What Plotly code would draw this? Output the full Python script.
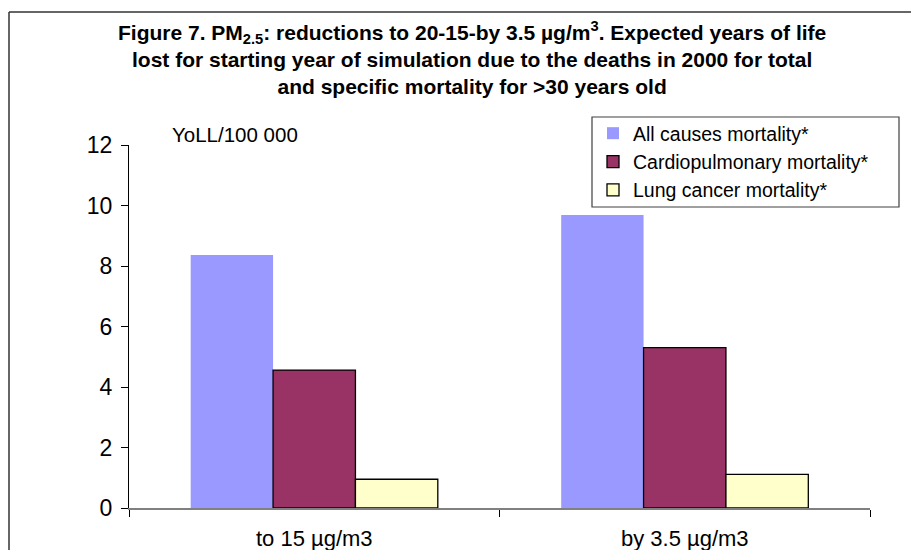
import plotly.graph_objects as go

categories = ["to 15 µg/m3", "by 3.5 µg/m3"]
all_causes = [8.36, 9.69]
cardiopulmonary = [4.56, 5.30]
lung_cancer = [0.95, 1.11]
series_names = ["All causes mortality*", "Cardiopulmonary mortality*", "Lung cancer mortality*"]
y_ticks = [0, 2, 4, 6, 8, 10, 12]

FONT = "Arial, Liberation Sans, sans-serif"

# plot area in pixels
L, R, T, B = 129, 870, 145, 508
W, H = 911, 550
def px(x):
    return (x - L) / (R - L)
def py(y):
    return (B - y) / (B - T)

fig = go.Figure()
fig.add_trace(go.Bar(x=categories, y=all_causes, name=series_names[0],
                     marker=dict(color="#9999FF", line=dict(width=0))))
fig.add_trace(go.Bar(x=categories, y=cardiopulmonary, name=series_names[1],
                     marker=dict(color="#993366", line=dict(color="black", width=1.3))))
fig.add_trace(go.Bar(x=categories, y=lung_cancer, name=series_names[2],
                     marker=dict(color="#FFFFCC", line=dict(color="black", width=1.3))))

fig.update_layout(
    width=W, height=H,
    margin=dict(l=L, r=W - R, t=T, b=H - B, pad=0),
    paper_bgcolor="white", plot_bgcolor="white",
    font=dict(family=FONT, size=20, color="black"),
    barmode="group", bargap=0.333, bargroupgap=0,
    showlegend=True,
    legend=dict(x=px(593), y=py(114), xanchor="left", yanchor="top",
                borderwidth=0, bgcolor="rgba(0,0,0,0)",
                font=dict(family=FONT, size=19.5, color="black"),
                traceorder="normal"),
    xaxis=dict(showline=True, linecolor="#808080", linewidth=1.5,
               ticks="outside", tickson="boundaries", ticklen=7, tickcolor="black",
               ticklabelstandoff=10,
               showgrid=False, tickfont=dict(size=22), automargin=False),
    yaxis=dict(range=[0, 12], tickvals=y_ticks, showline=True, linecolor="black",
               linewidth=1, ticks="outside", ticklen=7, tickcolor="black",
               ticklabelstandoff=4,
               showgrid=False, zeroline=False, tickfont=dict(size=23), automargin=False),
    shapes=[
        dict(type="line", xref="paper", yref="paper", x0=px(9), x1=px(W + 20),
             y0=py(12), y1=py(12), line=dict(color="#333333", width=1.5)),
        dict(type="line", xref="paper", yref="paper", x0=px(9), x1=px(9),
             y0=py(12), y1=py(H + 20), line=dict(color="#333333", width=1.5)),
        # legend frame
        dict(type="rect", xref="paper", yref="paper", x0=px(592), x1=px(899),
             y0=py(207), y1=py(117), layer="above", fillcolor="white",
             line=dict(color="#404040", width=1.2)),
    ],
    annotations=[
        dict(xref="paper", yref="paper", x=px(472), y=py(58), xanchor="center", yanchor="middle",
             showarrow=False, align="center",
             text="<b>Figure 7. PM<sub>2.5</sub>: reductions to 20-15-by 3.5 µg/m<sup>3</sup>. Expected years of life<br>"
                  "lost for starting year of simulation due to the deaths in 2000 for total<br>"
                  "and specific mortality for >30 years old</b>",
             font=dict(family=FONT, size=21, color="black")),
        dict(xref="paper", yref="paper", x=px(170), y=py(135), xanchor="left", yanchor="middle",
             showarrow=False, text="YoLL/100 000", font=dict(family=FONT, size=20.5, color="black")),
    ],
)

fig.write_html("out.html")
